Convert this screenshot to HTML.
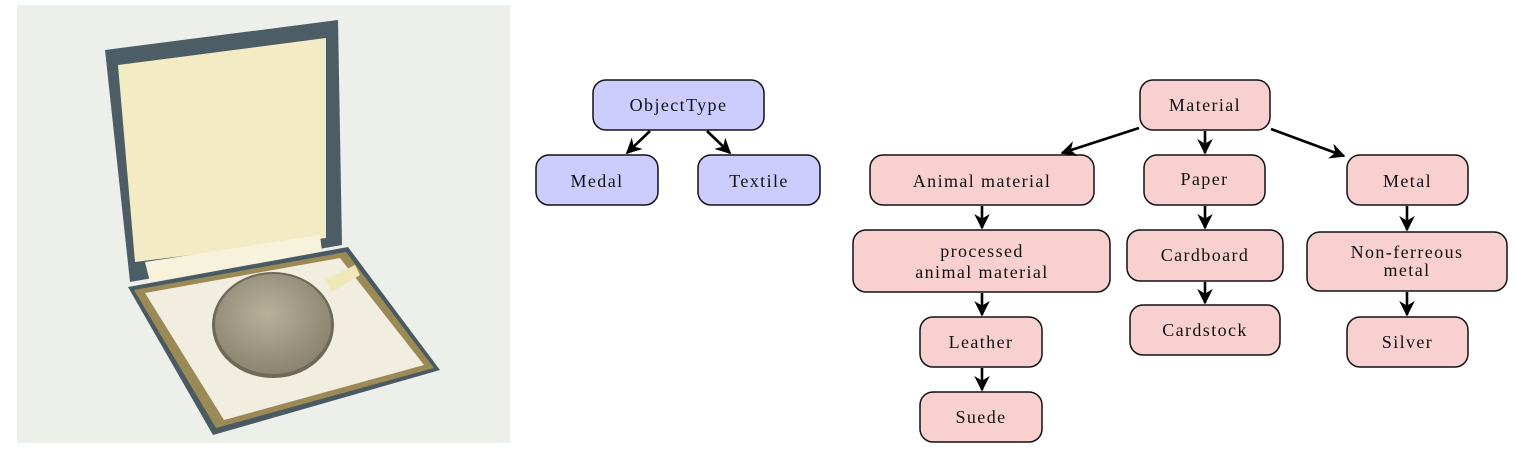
<!DOCTYPE html>
<html><head><meta charset="utf-8"><style>
html,body{margin:0;padding:0;background:#fff;}
svg{display:block}
text{font-family:"Liberation Serif",serif;font-size:18px;letter-spacing:1.4px;fill:#111;text-anchor:middle;}
.b{fill:#ccccff;stroke:#111;stroke-width:1.5}
.p{fill:#f7d0cf;stroke:#111;stroke-width:1.5}
.a{stroke:#000;stroke-width:2.6;fill:none;marker-end:url(#ah)}
</style></head><body>
<svg width="1516" height="455" viewBox="0 0 1516 455" xmlns="http://www.w3.org/2000/svg">
<defs>
<marker id="ah" viewBox="0 0 10 10" refX="9" refY="5" markerWidth="6" markerHeight="6" orient="auto" markerUnits="strokeWidth">
<path d="M0,0 L10,5 L0,10 L3,5 z" fill="#000"/>
</marker>
<radialGradient id="md" cx="0.45" cy="0.4" r="0.6"><stop offset="0" stop-color="#b8b19a"/><stop offset="1" stop-color="#8a8470"/></radialGradient>
</defs>
<!-- photo -->
<rect x="17" y="5" width="493" height="438" fill="#edefea"/>
<polygon points="105,50 338,20 342,245 130,282" fill="#4d5d66"/>
<polygon points="118,65 326,38 326,238 135,262" fill="#f3ebc4"/>
<polygon points="145,262 320,235 322,252 150,282" fill="#f7f2dc"/>
<polygon points="128,287 348,247 440,370 213,435" fill="#4a5a63"/>
<polygon points="134,290 346,252 434,368 216,428" fill="#9b8a55"/>
<polygon points="145,293 340,258 424,365 224,420" fill="#f2eedf"/>
<polygon points="325,280 355,265 360,275 332,292" fill="#f1e8b8"/>
<ellipse cx="273" cy="325" rx="61" ry="53" fill="#6f6a58"/>
<ellipse cx="273" cy="324" rx="58" ry="50" fill="url(#md)"/>
<!-- left diagram -->
<rect class="b" x="593" y="80" width="171" height="50" rx="13"/><text x="678.5" y="111">ObjectType</text>
<rect class="b" x="536" y="155" width="122" height="50" rx="13"/><text x="597" y="187">Medal</text>
<rect class="b" x="698" y="155" width="122" height="50" rx="13"/><text x="759" y="187">Textile</text>
<line class="a" x1="650" y1="131" x2="627" y2="153"/>
<line class="a" x1="707" y1="131" x2="730" y2="153"/>
<!-- right diagram -->
<rect class="p" x="1140" y="80" width="130" height="50" rx="13"/><text x="1205" y="111">Material</text>
<rect class="p" x="870" y="155" width="224" height="50" rx="13"/><text x="982" y="187">Animal material</text>
<rect class="p" x="1144" y="155" width="121" height="50" rx="13"/><text x="1204.5" y="185">Paper</text>
<rect class="p" x="1347" y="155" width="121" height="50" rx="13"/><text x="1407.5" y="187">Metal</text>
<rect class="p" x="853" y="230" width="257" height="62" rx="13"/><text x="982" y="257">processed</text><text x="982" y="278">animal material</text>
<rect class="p" x="1127" y="230" width="156" height="51" rx="13"/><text x="1205" y="261">Cardboard</text>
<rect class="p" x="1307" y="232" width="200" height="59" rx="13"/><text x="1407" y="258">Non-ferreous</text><text x="1407" y="276">metal</text>
<rect class="p" x="920" y="317" width="122" height="50" rx="13"/><text x="981" y="348">Leather</text>
<rect class="p" x="1130" y="305" width="150" height="50" rx="13"/><text x="1205" y="336">Cardstock</text>
<rect class="p" x="1347" y="317" width="121" height="50" rx="13"/><text x="1407.5" y="348">Silver</text>
<rect class="p" x="920" y="392" width="122" height="50" rx="13"/><text x="981" y="423">Suede</text>
<line class="a" x1="1139" y1="128" x2="1062" y2="153"/>
<line class="a" x1="1205" y1="131" x2="1205" y2="153"/>
<line class="a" x1="1271" y1="129" x2="1344" y2="156"/>
<line class="a" x1="982" y1="206" x2="982" y2="228"/>
<line class="a" x1="1205" y1="206" x2="1205" y2="228"/>
<line class="a" x1="1407" y1="206" x2="1407" y2="230"/>
<line class="a" x1="982" y1="293" x2="982" y2="315"/>
<line class="a" x1="1205" y1="282" x2="1205" y2="303"/>
<line class="a" x1="1407" y1="292" x2="1407" y2="315"/>
<line class="a" x1="982" y1="368" x2="982" y2="390"/>
</svg>
</body></html>
